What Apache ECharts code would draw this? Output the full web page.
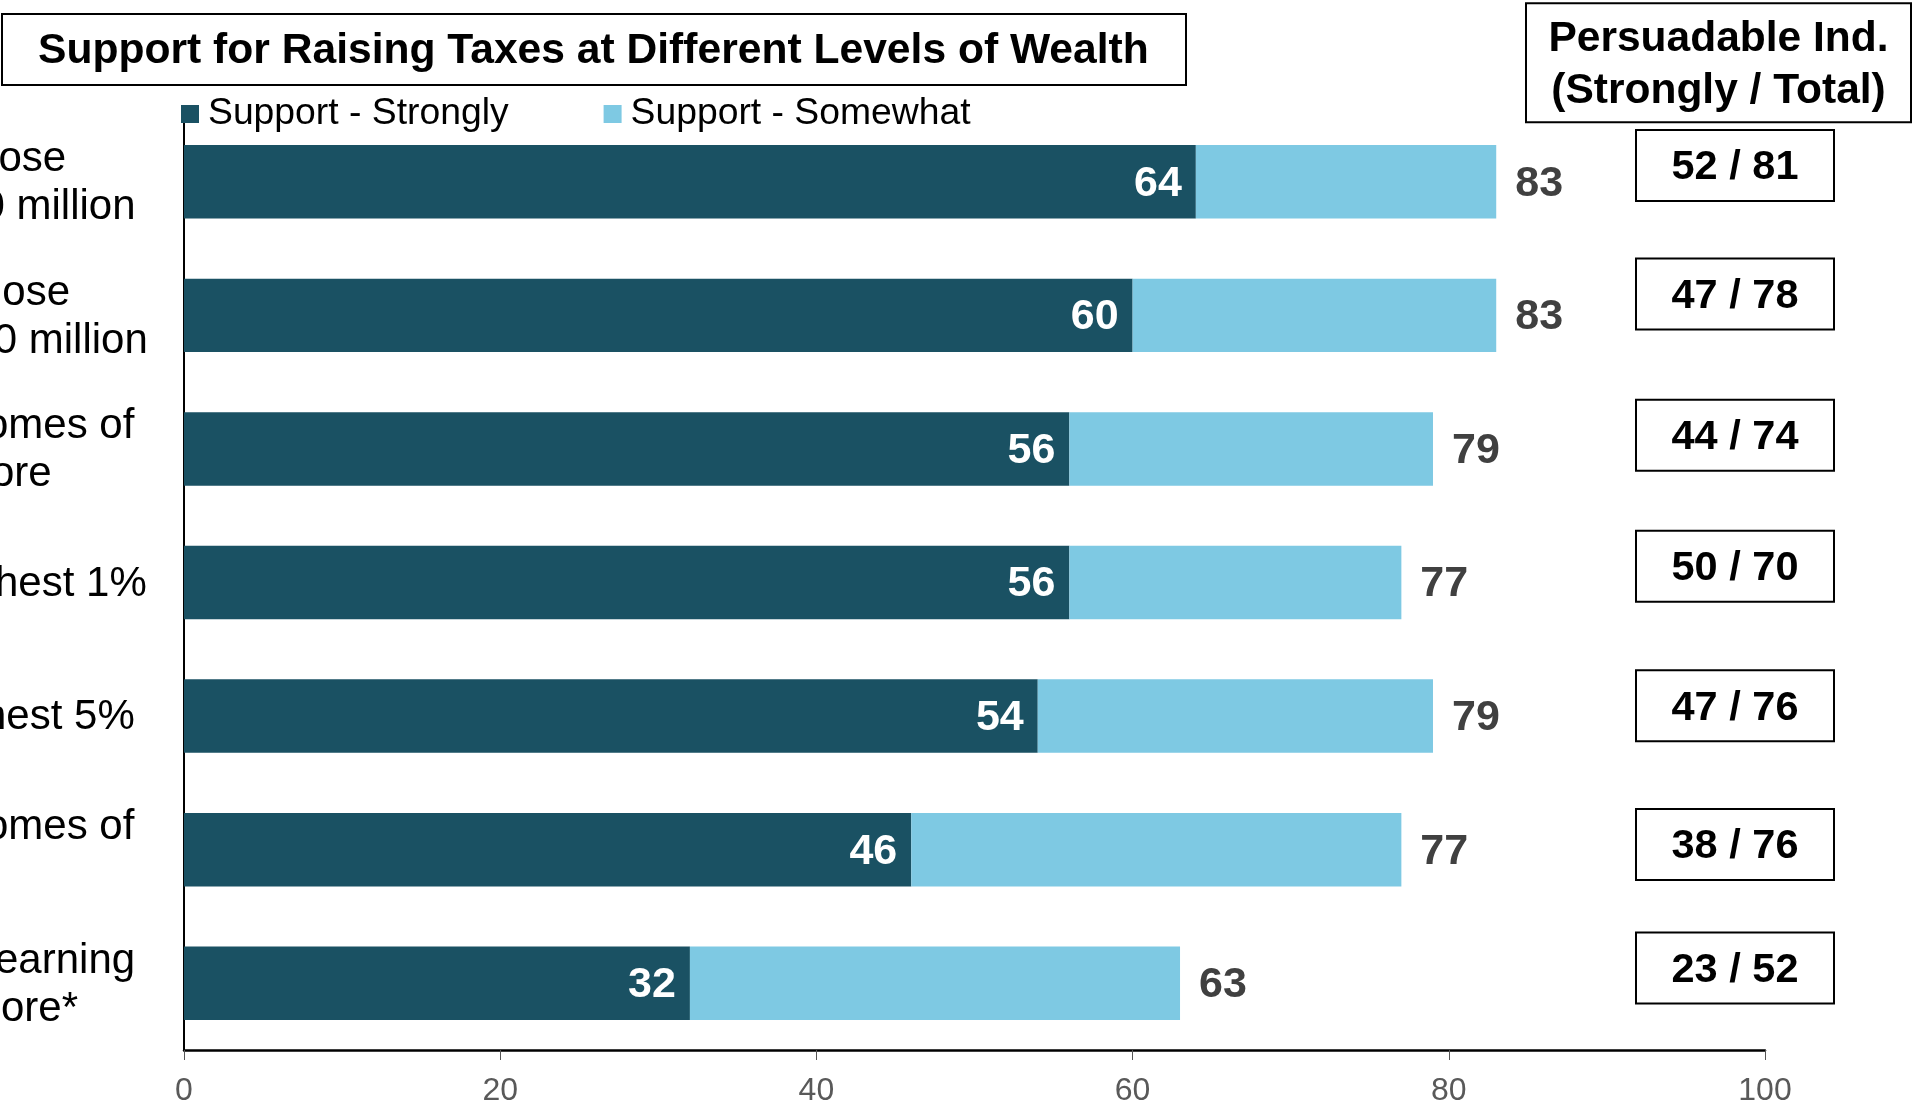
<!DOCTYPE html>
<html>
<head>
<meta charset="utf-8">
<script src="https://cdn.jsdelivr.net/npm/echarts@6/dist/echarts.min.js"></script>
<style>
  html, body { margin: 0; padding: 0; background: #ffffff; }
  #chart { width: 1913px; height: 1107px; }
</style>
</head>
<body>
<div id="chart"></div>
<script>
// ---- data ----
const categories = [
  'ose\n0 million',
  'hose\n0 million',
  'omes of\nore',
  'hest 1%',
  'hest 5%',
  'omes of\n',
  'earning\nore*'
];
const strongly = [64, 60, 56, 56, 54, 46, 32];
const somewhat = [19, 23, 23, 21, 25, 31, 31];
const persuadable = ['52 / 81', '47 / 78', '44 / 74', '50 / 70', '47 / 76', '38 / 76', '23 / 52'];
const xTicks = [0, 20, 40, 60, 80, 100];
const titleText = 'Support for Raising Taxes at Different Levels of Wealth';
const headerText = ['Persuadable Ind.', '(Strongly / Total)'];
const legendNames = ['Support - Strongly', 'Support - Somewhat'];

// ---- layout / style (not data) ----
const FONT = '"Liberation Sans", Arial, Helvetica, sans-serif';
const DARK = '#1A5163';
const LIGHT = '#7EC9E3';
// where each cropped category-label line starts (px, may be off canvas)
const labelLineStart = [[-1.5, -18.5], [-21, -6.3], [-15, -9], [-5], [-17], [-15, 0], [-5, 1]];
const LABEL_ANCHOR = -30;
// extra vertical spacer under each persuadable box (moves box up by half of it)
const boxSpacer = [32.5, 42.5, 27.5, 32.5, 20.5, 10.5, 30.5];

const catRich = { t: { height: 3.5, lineHeight: 3.5 } };
labelLineStart.forEach(function (row, i) {
  row.forEach(function (s, j) {
    catRich['r' + i + 'l' + j] = {
      fontFamily: FONT, fontSize: 42, lineHeight: 48, color: '#000',
      padding: [0, 0, 0, s - LABEL_ANCHOR]
    };
  });
});

const boxRich = {
  b: { fontFamily: FONT, fontSize: 41.5, fontWeight: 'bold', color: '#000', width: 196, height: 64, padding: [5, 0, 0, 0],
       align: 'center', borderColor: '#000', borderWidth: 2, backgroundColor: '#fff' }
};
boxSpacer.forEach(function (h, i) { boxRich['g' + i] = { height: h, lineHeight: h, width: 196 }; });

const chart = echarts.init(document.getElementById('chart'), null, { renderer: 'canvas' });

const option = {
  backgroundColor: '#ffffff',
  animation: false,
  textStyle: { fontFamily: FONT },
  title: [
    {
      text: titleText,
      left: 2, top: 14,
      padding: [13, 37, 10, 36],
      borderColor: '#000', borderWidth: 2,
      textStyle: { fontFamily: FONT, fontSize: 42.6, fontWeight: 'bold', color: '#000', lineHeight: 48 }
    },
    {
      text: '{h|' + headerText[0] + '}\n{h|' + headerText[1] + '}',
      left: 1526, top: -1.6,
      padding: [14.8, 15, 10, 15],
      borderColor: '#000', borderWidth: 2,
      textStyle: {
        fontFamily: FONT,
        rich: { h: { fontFamily: FONT, fontSize: 42.5, fontWeight: 'bold', color: '#000', lineHeight: 52, width: 355, align: 'center' } }
      }
    }
  ],
  legend: {
    left: 181, top: 95.5, padding: 0,
    itemWidth: 18, itemHeight: 18, itemGap: 95,
    icon: 'rect',
    data: legendNames,
    textStyle: { fontFamily: FONT, fontSize: 37.3, color: '#000', padding: [0, 0, 0, 4] }
  },
  grid: {
    left: 184, right: 148, top: 115, bottom: 57,
    outerBoundsMode: 'none', containLabel: false
  },
  xAxis: {
    type: 'value', min: xTicks[0], max: xTicks[xTicks.length - 1], interval: xTicks[1] - xTicks[0],
    axisLine: { show: true, lineStyle: { color: '#000', width: 2.5 } },
    axisTick: { show: true, length: 10, lineStyle: { color: '#555', width: 1 } },
    splitLine: { show: false },
    axisLabel: { color: '#595959', fontSize: 32, fontFamily: FONT, margin: 25 }
  },
  yAxis: [
    {
      type: 'category', data: categories, inverse: true,
      axisLine: { show: true, lineStyle: { color: '#000', width: 2 } },
      axisTick: { show: false },
      axisLabel: {
        align: 'left', margin: 184 - LABEL_ANCHOR, color: '#000',
        fontSize: 42, lineHeight: 48, fontFamily: FONT,
        formatter: function (v, i) {
          const lines = v.split('\n');
          return '{t|}\n' + lines.map(function (ln, j) { return '{r' + i + 'l' + j + '|' + ln + '}'; }).join('\n');
        },
        rich: catRich
      }
    },
    {
      type: 'category', data: categories, inverse: true, position: 'right', offset: -30,
      axisLine: { show: false }, axisTick: { show: false },
      axisLabel: {
        margin: 0, align: 'center',
        formatter: function (v, i) { return '{b|' + persuadable[i] + '}\n{g' + i + '|}'; },
        rich: boxRich
      }
    }
  ],
  series: [
    {
      name: legendNames[0], type: 'bar', stack: 'total', data: strongly,
      barCategoryGap: '45%',
      itemStyle: { color: DARK },
      label: { show: true, position: 'insideRight', distance: 14, offset: [0, 2], color: '#fff', fontSize: 43, fontWeight: 'bold', fontFamily: FONT }
    },
    {
      name: legendNames[1], type: 'bar', stack: 'total', data: somewhat,
      barCategoryGap: '45%',
      itemStyle: { color: LIGHT },
      label: {
        show: true, position: 'right', distance: 19, offset: [0, 2], color: '#404040', fontSize: 43, fontWeight: 'bold', fontFamily: FONT,
        formatter: function (p) { return String(strongly[p.dataIndex] + somewhat[p.dataIndex]); }
      }
    }
  ]
};
chart.setOption(option);
</script>
</body>
</html>
